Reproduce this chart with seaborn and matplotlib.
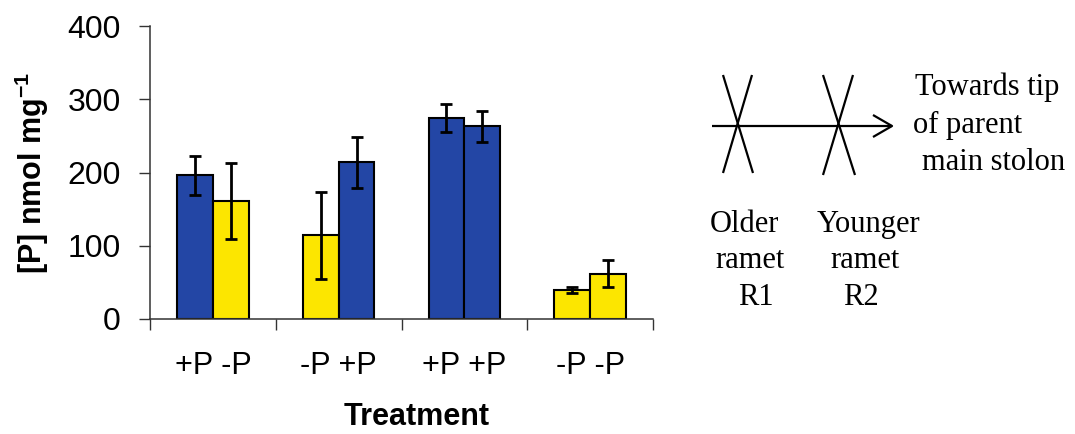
import matplotlib
matplotlib.use('Agg')
import matplotlib.pyplot as plt
import numpy as np
import pandas as pd
import seaborn as sns

# data
treatments = ['+P -P', '-P +P', '+P +P', '-P -P']
ramets = ['R1', 'R2']
r1_values = [196, 114, 274, 39]
r2_values = [161, 214, 263, 62]
r1_errors = [27, 60, 19, 4]
r2_errors = [52, 35, 21, 19]
r1_status = ['+P', '-P', '+P', '-P']
r2_status = ['-P', '+P', '+P', '-P']
y_ticks = [0, 100, 200, 300, 400]

status_colors = {'+P': '#2346A5', '-P': '#FCE600'}

df = pd.DataFrame({
    'treatment': treatments * 2,
    'ramet': ['R1'] * 4 + ['R2'] * 4,
    'value': r1_values + r2_values,
    'err': r1_errors + r2_errors,
    'status': r1_status + r2_status,
})

sns.set_style('ticks')
plt.rcParams['font.family'] = ['Liberation Sans', 'DejaVu Sans']
plt.rcParams['mathtext.fontset'] = 'custom'
plt.rcParams['mathtext.bf'] = 'Liberation Sans:bold'
plt.rcParams['mathtext.rm'] = 'Liberation Sans'
for k in ['text.color', 'axes.labelcolor', 'xtick.color', 'ytick.color']:
    plt.rcParams[k] = 'black'

fig = plt.figure(figsize=(10.75, 4.34), dpi=100)
ax = fig.add_axes([0.1395, 0.265, 0.468, 0.675])

sns.barplot(data=df, x='treatment', y='value', hue='ramet', order=treatments,
            hue_order=ramets, width=0.57, edgecolor='black', linewidth=1.5,
            legend=False, ax=ax)

for container, ramet in zip(ax.containers, ramets):
    sub = df[df['ramet'] == ramet].set_index('treatment').loc[treatments]
    for patch, (_, row) in zip(container.patches, sub.iterrows()):
        patch.set_facecolor(status_colors[row['status']])
        cx = patch.get_x() + patch.get_width() / 2
        ax.errorbar(cx, row['value'], yerr=row['err'], color='black',
                    elinewidth=2, capsize=4, capthick=2, zorder=5)

ax.set_ylim(0, 400)
ax.set_xlim(-0.5, 3.5)
ax.set_yticks(y_ticks)
ax.set_xticks(np.arange(-0.5, 4, 1), minor=True)
ax.tick_params(axis='x', which='major', length=0, pad=23, labelsize=22)
ax.tick_params(axis='x', which='minor', length=8, width=1, color='#333333', direction='out')
ax.tick_params(axis='y', length=8, width=1, color='#333333', pad=13, labelsize=23)
sns.despine(ax=ax)
for s in ['left', 'bottom']:
    ax.spines[s].set_color('#333333')
    ax.spines[s].set_linewidth(1.1)

ax.set_xlabel('Treatment', fontsize=22, fontweight='bold')
ax.xaxis.set_label_coords(0.53, -0.285)
ax.set_ylabel(r'[P] nmol mg$^{\mathbf{-1}}$', fontsize=22, fontweight='bold', labelpad=12)

# stolon diagram on the right, in pixel coordinates
ov = fig.add_axes([0, 0, 1, 1])
ov.set_xlim(0, 1075)
ov.set_ylim(434, 0)
ov.axis('off')
lk = dict(color='black', lw=1.6, solid_capstyle='butt')
ov.plot([712, 892], [126, 126], **lk)
ov.plot([873, 892, 873], [115, 126, 137], **lk)
ov.plot([723, 753], [75, 173], **lk)
ov.plot([752, 723], [75, 173], **lk)
ov.plot([823, 855], [75, 175], **lk)
ov.plot([853, 823], [75, 175], **lk)

tk = dict(fontsize=22, family=['Liberation Serif', 'DejaVu Serif'], va='baseline', ha='left')
ov.text(915, 95, 'Towards tip', **tk)
ov.text(913, 133, 'of parent', **tk)
ov.text(922, 170, 'main stolon', **tk)
ov.text(710, 232, 'Older', **tk)
ov.text(715, 268, 'ramet', **tk)
ov.text(738, 305, 'R1', **tk)
ov.text(817, 232, 'Younger', **tk)
ov.text(830, 268, 'ramet', **tk)
ov.text(843, 305, 'R2', **tk)

fig.savefig('out.png', dpi=100)
